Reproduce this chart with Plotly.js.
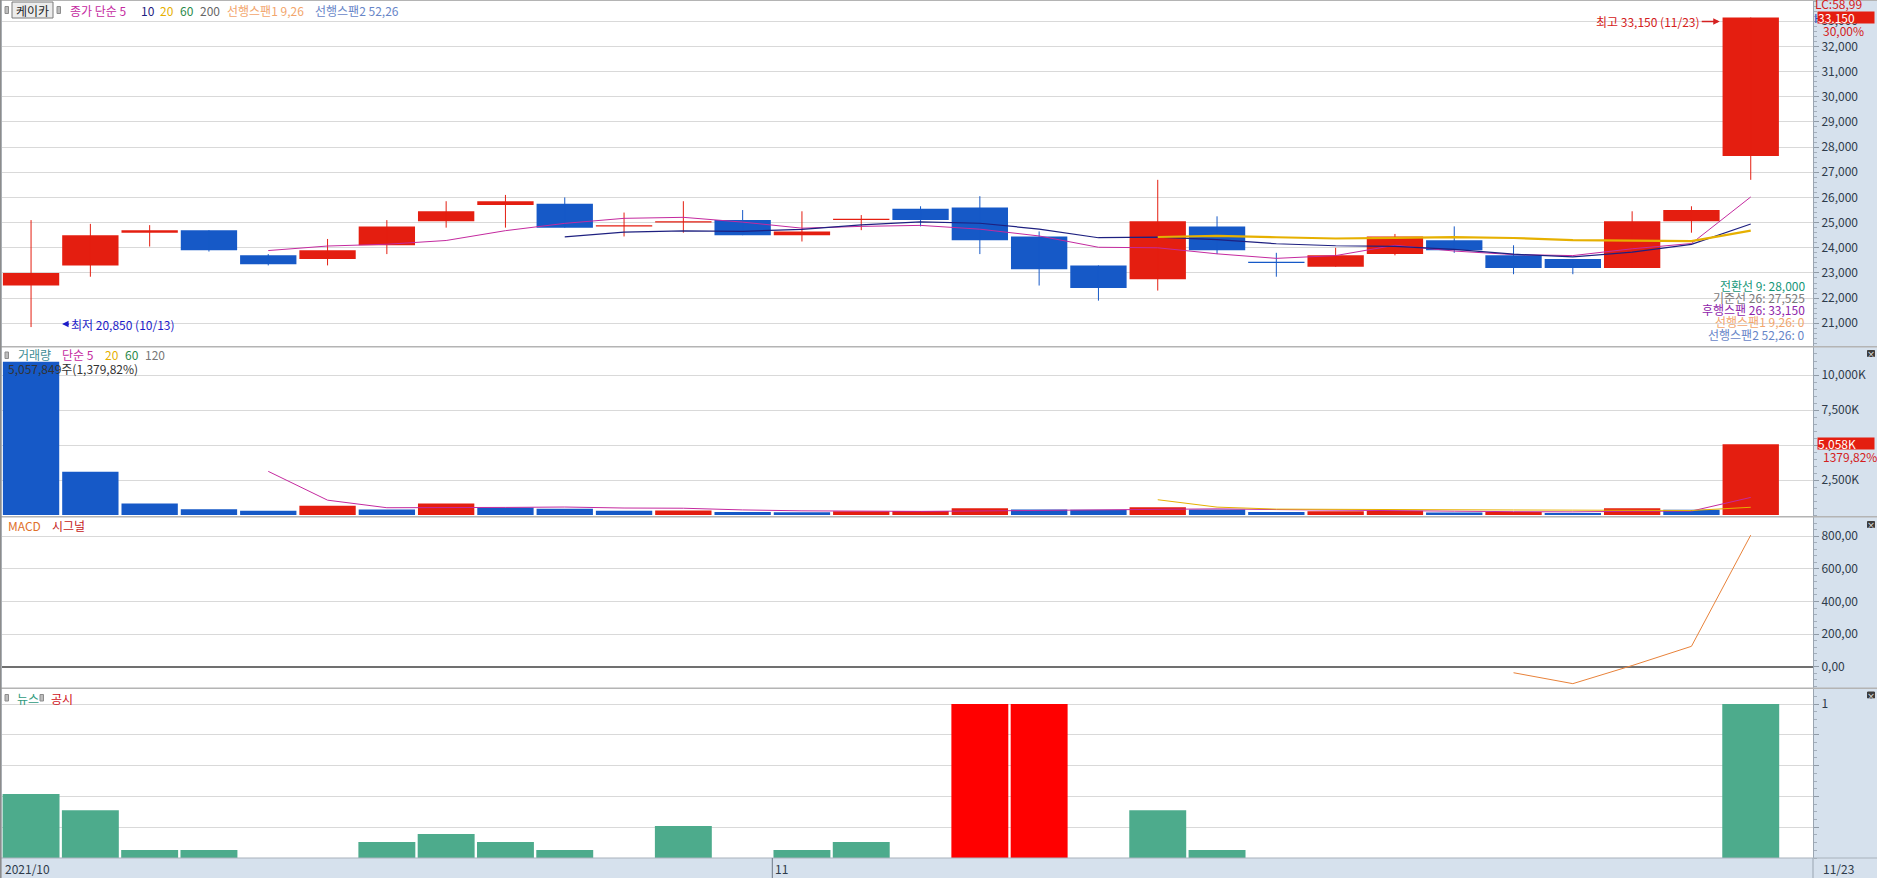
<!DOCTYPE html>
<html><head><meta charset="utf-8">
<script src="https://cdn.plot.ly/plotly-3.0.1.min.js"></script>
<style>html,body{margin:0;padding:0;background:#fff;overflow:hidden}#chart{width:1877px;height:878px}</style>
</head><body><div id="chart"></div>
<script>
// ---------------- data ----------------
const dates = ['10/13','10/14','10/15','10/18','10/19','10/20','10/21','10/22','10/25','10/26','10/27','10/28','10/29',
  '11/01','11/02','11/03','11/04','11/05','11/08','11/09','11/10','11/11','11/12','11/15','11/16','11/17','11/18','11/19','11/22','11/23'];
const open  = [22500,23300,24600,24700,23700,23550,24100,25050,25700,25750,24850,25000,25100,24500,25100,25550,25600,24450,23300,22750,24850,23450,23250,23750,24300,23700,23550,23200,25050,27650];
const high  = [25100,24950,24900,24700,23750,24350,25100,25850,26100,26000,25400,25850,25500,25450,25300,25650,26050,24650,23300,26700,25250,23800,24000,24550,24850,24100,23550,25450,25650,33150];
const low   = [20850,22850,24050,23850,23300,23300,23750,24800,24800,24800,24450,24600,24500,24250,24700,24850,23750,22500,21900,22300,23750,22850,23250,23700,23800,22950,22950,23200,24600,26700];
const close = [23000,24500,24700,23900,23350,23900,24850,25450,25850,24800,24900,25050,24500,24650,25150,25100,24300,23150,22400,25050,23900,23400,23700,24450,23900,23200,23200,25050,25500,33150];
// price moving averages (first value at day 5, 10, 20)
const ma5  = [23890,24070,24140,24290,24680,24970,25170,25210,25020,24780,24850,24890,24740,24470,24020,24000,23760,23580,23690,24100,23870,23730,23690,23960,24170,26020];
const ma10 = [24430,24620,24675,24655,24730,24910,25030,24975,24745,24400,24425,24325,24160,24080,24060,23935,23745,23635,23825,24135,24945];
const ma20 = [24428,24473,24418,24368,24395,24423,24388,24305,24285,24268,24685];
// volume in thousands of shares
const volumeK = [10950,3090,830,410,310,660,390,820,530,450,300,320,220,200,260,290,480,390,370,560,400,220,270,300,180,220,150,480,367,5058];
const volMa5  = [3118,1060,520,518,542,570,498,484,364,298,260,258,290,324,358,418,440,388,364,350,274,238,224,266,279,1255];
const volMa20 = [1092,564,421,393,387,381,359,347,330,321,552];
// MACD (first value at day 26)
const macd = [-37,-104,7,125,807];
// news / disclosure
const news = [0.415,0.31,0.052,0.052,null,null,0.104,0.156,0.104,0.052,null,0.208,null,0.052,0.104,null,null,null,null,0.31,0.052,null,null,null,null,null,null,null,null,1];
const disclosure = [null,null,null,null,null,null,null,null,null,null,null,null,null,null,null,null,1,1,null,null,null,null,null,null,null,null,null,null,null,null];
// axis ticks
const priceTicks = [21000,22000,23000,24000,25000,26000,27000,28000,29000,30000,31000,32000,33000];
const volTicks = [2500,5000,7500,10000];
const macdTicks = [0,200,400,600,800];
const newsTicks = [0.2,0.4,0.6,0.8,1];
const ichimoku = [
  ['전환선 9: 28,000','#17977a'],
  ['기준선 26: 27,525','#7a7a7a'],
  ['후행스팬 26: 33,150','#8e24aa'],
  ['선행스팬1 9,26: 0','#f2a66c'],
  ['선행스팬2 52,26: 0','#6886c8']
];

// ---------------- layout helpers ----------------
const W=1877,H=878,ML=2,MR=64,MT=0,MB=20;
const PW=W-ML-MR, PH=H-MT-MB;
const px = v => (v-ML)/PW;
const py = v => 1-(v-MT)/PH;
const F = 'Noto Sans CJK KR, Noto Sans, sans-serif';
const RED='#e41e10', BLUE='#1659c7', MAG='#c42a9f', NAVY='#1e2080', GOLD='#e6b000';
const fmt = n => n.toLocaleString('en-US');
const dec = n => n.toFixed(2).replace('.', ',');

// ---------------- traces ----------------
const traces = [];
const bodyBase = open.map((o,i)=>Math.min(o,close[i]));
const bodyH = open.map((o,i)=>Math.abs(close[i]-o));
const candleCol = open.map((o,i)=> close[i]>=o ? RED : BLUE);
function wicks(up){
  const x=[],y=[];
  dates.forEach((d,i)=>{ if((close[i]>=open[i])===up){ x.push(d,d,null); y.push(low[i],high[i],null);} });
  return {type:'scatter',mode:'lines',x,y,xaxis:'x',yaxis:'y',line:{color:up?RED:BLUE,width:1},hoverinfo:'skip'};
}
traces.push({type:'bar',x:dates,y:bodyH,base:bodyBase,width:0.95,marker:{color:candleCol,line:{width:0}},xaxis:'x',yaxis:'y'});
traces.push(wicks(true), wicks(false));
traces.push({type:'scatter',mode:'lines',x:dates.slice(4),y:ma5,line:{color:MAG,width:1},xaxis:'x',yaxis:'y'});
traces.push({type:'scatter',mode:'lines',x:dates.slice(9),y:ma10,line:{color:NAVY,width:1.2},xaxis:'x',yaxis:'y'});
traces.push({type:'scatter',mode:'lines',x:dates.slice(19),y:ma20,line:{color:GOLD,width:2.2},xaxis:'x',yaxis:'y'});

const volCol = volumeK.map((v,i)=> i>0 && v>volumeK[i-1] ? RED : BLUE);
traces.push({type:'bar',x:dates,y:volumeK,width:0.95,marker:{color:volCol,line:{width:0}},xaxis:'x',yaxis:'y2'});
traces.push({type:'scatter',mode:'lines',x:dates.slice(4),y:volMa5,line:{color:MAG,width:1},xaxis:'x',yaxis:'y2'});
traces.push({type:'scatter',mode:'lines',x:dates.slice(19),y:volMa20,line:{color:GOLD,width:1},xaxis:'x',yaxis:'y2'});

traces.push({type:'scatter',mode:'lines',x:dates.slice(25),y:macd,line:{color:'#e8823a',width:1},xaxis:'x',yaxis:'y3'});

traces.push({type:'bar',x:dates,y:news,width:0.96,marker:{color:'#4dab8c',line:{width:0}},xaxis:'x',yaxis:'y4'});
traces.push({type:'bar',x:dates,y:disclosure,width:0.96,marker:{color:'#ff0000',line:{width:0}},xaxis:'x',yaxis:'y4'});

// ---------------- axes ----------------
const yBase = {side:'right',anchor:'x',showgrid:true,gridcolor:'#d9d9d9',gridwidth:1,zeroline:false,
  showline:true,linecolor:'#9aa5b1',linewidth:1,ticks:'outside',ticklen:5,tickcolor:'#8f9aa6',
  tickfont:{family:F,size:12,color:'#2e3b4a'},fixedrange:true,tickmode:'array'};
function yax(domain,range,tv,tt,minorDt,extra){
  return Object.assign({},yBase,{domain,range,tickvals:tv,ticktext:tt,
    minor:{ticks:'outside',ticklen:3,tickcolor:'#a3aebb',dtick:minorDt,tick0:0,showgrid:false}},extra||{});
}
const d1=[py(346.7),1], d2=[py(516.7),py(346.7)], d3=[py(688.3),py(516.7)], d4=[0,py(688.3)];

const layout = {
  width:W,height:H,autosize:false,margin:{l:ML,r:MR,t:MT,b:MB,pad:0},
  paper_bgcolor:'#d6e1ed',plot_bgcolor:'#ffffff',showlegend:false,hovermode:false,barmode:'overlay',
  font:{family:F,size:12,color:'#2e3b4a'},
  xaxis:{type:'category',categoryorder:'array',categoryarray:dates,range:[-0.49,30.05],showgrid:false,zeroline:false,
    showticklabels:false,ticks:'',showline:false,anchor:'y4',fixedrange:true},
  yaxis: yax(d1,[20070,33845],priceTicks,priceTicks.map(fmt),200),
  yaxis2:yax(d2,[-121,12021],volTicks,volTicks.map(v=>fmt(v)+'K'),500),
  yaxis3:yax(d3,[-132.5,920],macdTicks,macdTicks.map(dec),40,{zeroline:true,zerolinecolor:'#707070',zerolinewidth:2}),
  yaxis4:yax(d4,[0,1.102],newsTicks,newsTicks.map(v=>v===1?'1':''),0.05),
  shapes:[],annotations:[]
};

// ---------------- decorations ----------------
const S = layout.shapes, A = layout.annotations;
function hline(y,x0,x1,color,w){S.push({type:'line',xref:'paper',yref:'paper',x0:px(x0),x1:px(x1),y0:py(y),y1:py(y),line:{color,width:w},layer:'above'});}
function vline(x,y0,y1,color,w){S.push({type:'line',xref:'paper',yref:'paper',x0:px(x),x1:px(x),y0:py(y0),y1:py(y1),line:{color,width:w},layer:'above'});}
function rect(x0,y0,x1,y1,fill,lc){S.push({type:'rect',xref:'paper',yref:'paper',x0:px(x0),x1:px(x1),y0:py(y0),y1:py(y1),fillcolor:fill,line:{color:lc||fill,width:1},layer:'above'});}
function label(x,y,text,color,extra){A.push(Object.assign({xref:'paper',yref:'paper',x:px(x),y:py(y),text,showarrow:false,
  xanchor:'left',yanchor:'middle',font:{family:F,size:12,color}},extra||{}));}

// panel separators and frame
[346.7,516.7,688.3].forEach(y=>hline(y,0,W,'#b4b4b4',1.5));
hline(858,0,W,'#a9b2bc',1);
hline(0.5,0,W,'#b4b4b4',1);
vline(0.8,0,H,'#8c8c8c',1.6);
vline(1813,858,878,'#9aa5b1',1);
// month boundary tick on the date strip
const mIdx = dates.findIndex(d=>d.startsWith('11'));
S.push({type:'line',xref:'x',yref:'paper',x0:mIdx-0.5,x1:mIdx-0.5,y0:py(858),y1:py(878),line:{color:'#6b7785',width:1},layer:'above'});

// header 1
rect(5,6.5,8.5,13.5,'#bdbdbd','#8d8d8d');
rect(12,2,53,18,'#ececec','#7b7b7b');
label(32.5,10,'케이카','#222222',{xanchor:'center'});
rect(57,6.5,60.5,13.5,'#bdbdbd','#8d8d8d');
label(68,10,'종가 단순 5',MAG);
label(139,10,'10',NAVY);
label(158,10,'20',GOLD);
label(178,10,'60','#2a8a4a');
label(198,10,'200','#666666');
label(225,10,'선행스팬1 9,26','#f2a66c');
label(313,10,'선행스팬2 52,26','#6886c8');

// header 2
rect(5,352,8.5,358.5,'#bdbdbd','#8d8d8d');
label(16,355,'거래량','#3c8c94');
label(60,355,'단순 5',MAG);
label(103,355,'20',GOLD);
label(123,355,'60','#2a8a4a');
label(143,355,'120','#777777');
const lastV = volumeK[volumeK.length-1];
label(6,369,'5,057,849주(1,379,82%)','#333333');

// header 3
label(6,525,'MACD','#e0702a');
label(50,525,'시그널','#c42020');

// header 4
rect(5,694.5,8.5,701,'#bdbdbd','#8d8d8d');
label(15,698,'뉴스','#2f9a7c');
rect(40,694.5,43.5,701,'#bdbdbd','#8d8d8d');
label(49,698,'공시','#d01020');

// ichimoku values
ichimoku.forEach((r,i)=>label(1807,285+i*12.3,r[0],r[1],{xanchor:'right'}));

// high / low markers
const iMax = high.indexOf(Math.max(...high)), iMin = low.indexOf(Math.min(...low));
A.push({xref:'x',yref:'y',x:iMax,y:high[iMax],xshift:-31,yshift:-4,text:'최고 '+fmt(high[iMax])+' ('+dates[iMax]+')',
  showarrow:true,arrowhead:2,arrowsize:1,arrowwidth:1.3,arrowcolor:'#d42020',ax:-18,ay:0,xanchor:'right',yanchor:'middle',standoff:0,
  font:{family:F,size:12,color:'#d42020'}});
A.push({xref:'x',yref:'y',x:iMin,y:low[iMin],xshift:31,yshift:3,text:'최저 '+fmt(low[iMin])+' ('+dates[iMin]+')',
  showarrow:true,arrowhead:2,arrowsize:1,arrowwidth:1.3,arrowcolor:'#1c1cc8',ax:7,ay:0,xanchor:'left',yanchor:'middle',standoff:0,
  font:{family:F,size:12,color:'#1c1cc8'}});

// right axis price labels
label(1813,4,'LC:58,99','#d42020');
label(1812,18,'H','#2b50c0');
A.push({xref:'paper',yref:'paper',x:px(1817),y:py(17.5),xanchor:'left',yanchor:'middle',showarrow:false,text:fmt(close[close.length-1]),
  width:56,height:11,align:'left',bgcolor:RED,borderpad:0,font:{family:F,size:12,color:'#ffffff'}});
label(1821,30,'30,00%','#d42020');
A.push({xref:'paper',yref:'paper',x:px(1817),y:py(443.5),xanchor:'left',yanchor:'middle',showarrow:false,text:fmt(Math.round(lastV))+'K',
  width:56,height:11,align:'left',bgcolor:RED,borderpad:0,font:{family:F,size:12,color:'#ffffff'}});
label(1821,456,'1379,82%','#d42020');

// date strip
label(3,868,'2021/10','#2e3b4a');
A.push({xref:'x',yref:'paper',x:mIdx-0.5,y:py(868),xshift:1,xanchor:'left',yanchor:'middle',showarrow:false,text:'11',font:{family:F,size:12,color:'#2e3b4a'}});
label(1821,868,dates[dates.length-1],'#2e3b4a');

// panel close buttons
[[350.5,356.5],[521.5,527.5],[692,698]].forEach(([a,b])=>{
  rect(1867.5,a,1874.5,b,'#3d3d3d','#3d3d3d');
  label(1871,(a+b)/2,'×','#ffffff',{xanchor:'center',font:{family:F,size:8,color:'#ffffff'}});
});

Plotly.newPlot('chart',traces,layout,{staticPlot:true,displayModeBar:false});
</script>
</body></html>
